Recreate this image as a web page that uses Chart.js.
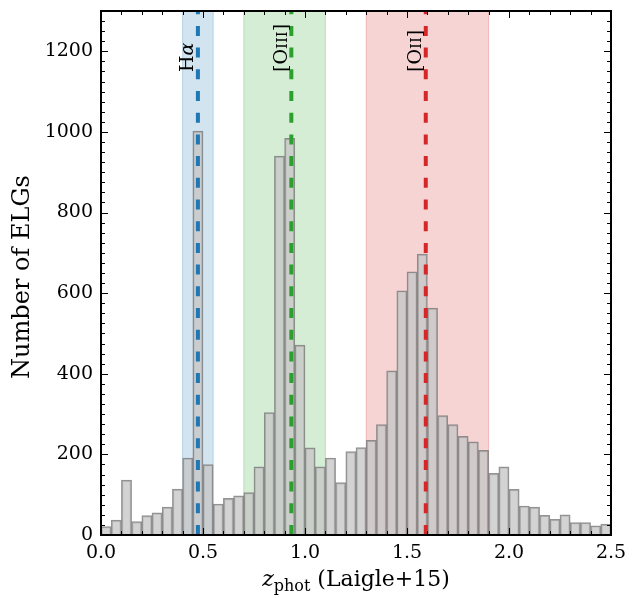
<!DOCTYPE html>
<html>
<head>
<meta charset="utf-8">
<script src="https://cdn.jsdelivr.net/npm/chart.js@4"></script>
<style>
  html, body { margin: 0; padding: 0; background: #fff; }
  #wrap { width: 637px; height: 598px; }
</style>
</head>
<body>
<div id="wrap"><canvas id="zHist" width="637" height="598"></canvas></div>
<script>
// Photometric redshift histogram, bins of 0.05
const binCenters = [
  0.025, 0.075, 0.125, 0.175, 0.225, 0.275, 0.325, 0.375, 0.425, 0.475,
  0.525, 0.575, 0.625, 0.675, 0.725, 0.775, 0.825, 0.875, 0.925, 0.975,
  1.025, 1.075, 1.125, 1.175, 1.225, 1.275, 1.325, 1.375, 1.425, 1.475,
  1.525, 1.575, 1.625, 1.675, 1.725, 1.775, 1.825, 1.875, 1.925, 1.975,
  2.025, 2.075, 2.125, 2.175, 2.225, 2.275, 2.325, 2.375, 2.425, 2.475
];
const counts = [
  21, 37, 136, 33, 48, 55, 69, 114, 191, 1002,
  175, 77, 91, 97, 105, 169, 304, 940, 984, 471,
  216, 169, 191, 130, 207, 217, 235, 274, 407, 606,
  653, 697, 563, 296, 274, 245, 231, 210, 153, 169,
  113, 72, 69, 49, 39, 50, 31, 31, 23, 27
];

// Emission-line windows and redshifts
const lineNames = ["Hα", "[OIII]", "[OII]"];
const lineZ = [0.475, 0.933, 1.592];
const bandLo = [0.40, 0.70, 1.30];
const bandHi = [0.55, 1.10, 1.90];
const lineColors = ["#1f77b4", "#2ca02c", "#d62728"];

const xTicks = [0.0, 0.5, 1.0, 1.5, 2.0, 2.5];
const yTicks = [0, 200, 400, 600, 800, 1000, 1200];

const FONT = "'DejaVu Serif', serif";

function hexAlpha(hex, a) {
  const n = parseInt(hex.slice(1), 16);
  return `rgba(${(n >> 16) & 255},${(n >> 8) & 255},${n & 255},${a})`;
}

// draw a sequence of [text, font] runs starting at (0,0)
function drawRuns(ctx, runs) {
  let x = 0;
  runs.forEach(([txt, font]) => {
    ctx.font = font;
    ctx.fillText(txt, x, 0);
    x += ctx.measureText(txt).width;
  });
  return x;
}
function runsWidth(ctx, runs) {
  let w = 0;
  runs.forEach(([txt, font]) => {
    ctx.font = font;
    w += ctx.measureText(txt).width;
  });
  return w;
}

function labelRuns(name) {
  const big = `19px ${FONT}`;
  const small = `15px ${FONT}`;
  if (name === "Hα") return [["H", big], ["α", `italic 19px ${FONT}`]];
  const m = name.match(/^\[(\w)(I+)\]$/);
  return [["[" + m[1], big], [m[2], small], ["]", big]];
}

const bandsPlugin = {
  id: "bands",
  beforeDatasetsDraw(chart) {
    const { ctx, chartArea, scales } = chart;
    ctx.save();
    bandLo.forEach((lo, i) => {
      const x0 = scales.x.getPixelForValue(lo);
      const x1 = scales.x.getPixelForValue(bandHi[i]);
      ctx.fillStyle = hexAlpha(lineColors[i], 0.2);
      ctx.fillRect(x0, chartArea.top, x1 - x0, chartArea.bottom - chartArea.top);
      ctx.strokeStyle = hexAlpha(lineColors[i], 0.25);
      ctx.lineWidth = 1;
      ctx.strokeRect(x0, chartArea.top, x1 - x0, chartArea.bottom - chartArea.top);
    });
    ctx.restore();
  },
  afterDatasetsDraw(chart) {
    const { ctx, chartArea, scales } = chart;
    ctx.save();
    ctx.beginPath();
    ctx.rect(chartArea.left, chartArea.top, chartArea.right - chartArea.left, chartArea.bottom - chartArea.top);
    ctx.clip();
    lineZ.forEach((z, i) => {
      const x = scales.x.getPixelForValue(z);
      ctx.strokeStyle = lineColors[i];
      ctx.lineWidth = 4;
      ctx.setLineDash([10, 11.7]);
      ctx.beginPath();
      ctx.moveTo(x, chartArea.bottom);
      ctx.lineTo(x, chartArea.top);
      ctx.stroke();
    });
    ctx.setLineDash([]);
    ctx.restore();

    // rotated line labels
    ctx.save();
    ctx.fillStyle = "#000";
    ctx.textBaseline = "alphabetic";
    ctx.textAlign = "left";
    lineZ.forEach((z, i) => {
      const x = scales.x.getPixelForValue(z) - 4.5;
      ctx.save();
      ctx.translate(x, 72);
      ctx.rotate(-Math.PI / 2);
      drawRuns(ctx, labelRuns(lineNames[i]));
      ctx.restore();
    });
    ctx.restore();
  }
};

const framePlugin = {
  id: "frame",
  afterDraw(chart) {
    const { ctx, chartArea: a, scales } = chart;
    ctx.save();
    ctx.strokeStyle = "#000";
    ctx.lineWidth = 1;
    // minor + major ticks, inward, on all sides
    for (let k = 0; k <= 25; k++) {
      const v = k * 0.1;
      const x = Math.round(scales.x.getPixelForValue(v)) + 0.5;
      const len = k % 5 === 0 ? 7 : 4;
      ctx.beginPath();
      ctx.moveTo(x, a.bottom); ctx.lineTo(x, a.bottom - len);
      ctx.moveTo(x, a.top); ctx.lineTo(x, a.top + len);
      ctx.stroke();
    }
    for (let k = 0; k <= 52; k++) {
      const v = k * 25;
      const y = Math.round(scales.y.getPixelForValue(v)) + 0.5;
      const len = k % 8 === 0 ? 7 : 4;
      ctx.beginPath();
      ctx.moveTo(a.left, y); ctx.lineTo(a.left + len, y);
      ctx.moveTo(a.right, y); ctx.lineTo(a.right - len, y);
      ctx.stroke();
    }
    ctx.lineWidth = 2;
    ctx.strokeRect(a.left, a.top, a.right - a.left, a.bottom - a.top);

    // axis titles
    ctx.fillStyle = "#000";
    ctx.textBaseline = "alphabetic";
    const xRuns = [
      ["z", `italic 22px ${FONT}`],
      ["phot", `16px ${FONT}`],
      [" (Laigle+15)", `22px ${FONT}`]
    ];
    const w = runsWidth(ctx, xRuns);
    const cx = (a.left + a.right) / 2;
    let px = cx - w / 2;
    ctx.font = xRuns[0][1];
    ctx.fillText("z", px, 586);
    px += ctx.measureText("z").width;
    ctx.font = xRuns[1][1];
    ctx.fillText("phot", px, 591);
    px += ctx.measureText("phot").width;
    ctx.font = xRuns[2][1];
    ctx.fillText(" (Laigle+15)", px, 586);

    ctx.save();
    ctx.translate(23, (a.top + a.bottom) / 2 + 4);
    ctx.rotate(-Math.PI / 2);
    ctx.font = `24px ${FONT}`;
    ctx.textAlign = "center";
    ctx.textBaseline = "middle";
    ctx.fillText("Number of ELGs", 0, 0);
    ctx.restore();
    ctx.restore();
  }
};

new Chart(document.getElementById("zHist"), {
  type: "bar",
  data: {
    datasets: [{
      data: binCenters.map((z, i) => ({ x: z, y: counts[i] })),
      backgroundColor: "rgba(200,200,200,0.8)",
      borderColor: "rgba(120,120,120,0.8)",
      borderWidth: 1.5,
      barPercentage: 1,
      categoryPercentage: 1
    }]
  },
  options: {
    responsive: false,
    animation: false,
    events: [],
    layout: { padding: { top: 11, right: 26, left: 0, bottom: 0 } },
    plugins: { legend: { display: false }, tooltip: { enabled: false } },
    scales: {
      x: {
        type: "linear",
        min: 0,
        max: 2.5,
        offset: false,
        grid: { display: false, drawTicks: false },
        border: { display: false },
        afterBuildTicks: (s) => { s.ticks = xTicks.map((v) => ({ value: v })); },
        afterFit: (s) => { s.height = 63; s.paddingLeft = 0; s.paddingRight = 0; },
        ticks: {
          padding: 7,
          maxRotation: 0,
          color: "#000",
          font: { family: FONT, size: 19 },
          callback: (v) => Number(v).toFixed(1)
        }
      },
      y: {
        min: 0,
        max: 1300,
        grid: { display: false, drawTicks: false },
        border: { display: false },
        afterBuildTicks: (s) => { s.ticks = yTicks.map((v) => ({ value: v })); },
        afterFit: (s) => { s.width = 101; s.paddingTop = 0; s.paddingBottom = 0; },
        ticks: {
          padding: 8,
          color: "#000",
          font: { family: FONT, size: 19 },
          callback: (v) => String(v)
        }
      }
    }
  },
  plugins: [bandsPlugin, framePlugin]
});
</script>
</body>
</html>
